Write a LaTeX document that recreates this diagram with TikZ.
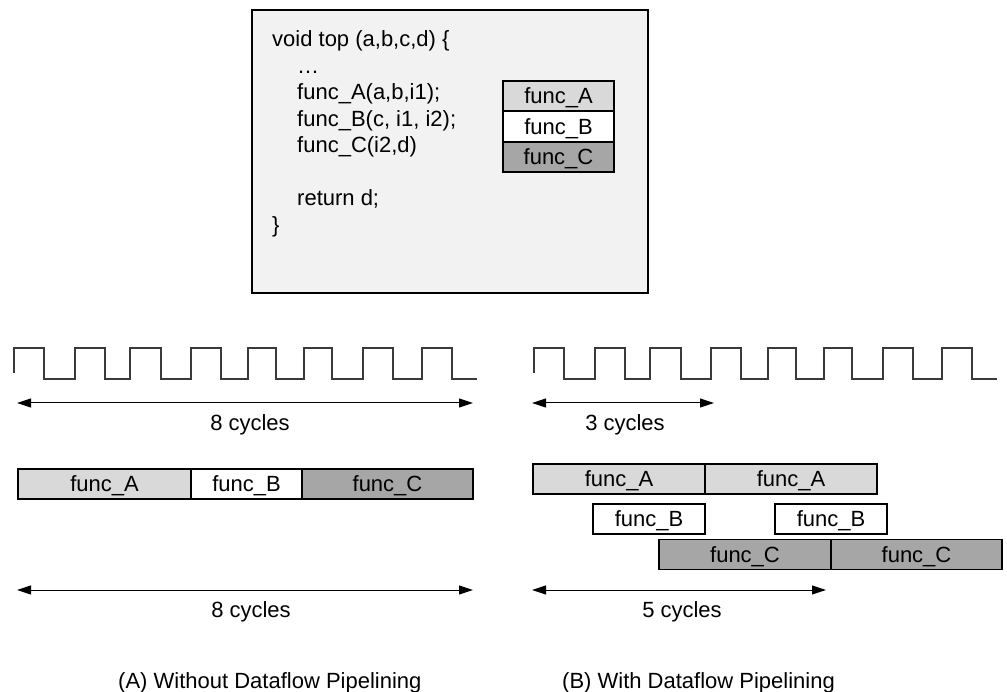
\documentclass[tikz,border=0pt]{standalone}
\usepackage{fontspec}
\setmainfont{Liberation Sans}
\usetikzlibrary{arrows.meta}
\definecolor{boxgray}{HTML}{F2F2F2}
\definecolor{agray}{HTML}{D9D9D9}
\definecolor{cgray}{HTML}{A6A6A6}
\definecolor{clk}{HTML}{3A3A3A}
\tikzset{
  txt/.style={font=\fontsize{22}{26}\selectfont, inner sep=0pt},
  codeline/.style={txt, anchor=base west},
  lbl/.style={txt, anchor=base},
  bar/.style={draw=black, line width=1.6pt, inner sep=0pt, minimum height=30pt,
              text height=15.8pt, text depth=0pt,
              font=\fontsize{22}{26}\selectfont},
  dimarrow/.style={{Triangle[length=14pt,width=9pt]}-{Triangle[length=14pt,width=9pt]}, line width=1pt},
  clock/.style={draw=clk, line width=1.1pt}
}
\begin{document}
\begin{tikzpicture}[x=1pt,y=-1pt]
\useasboundingbox (0,0) rectangle (1007,692);
% code box
\node[draw=black, line width=1.8pt, fill=boxgray, minimum width=396pt, minimum height=283pt, inner sep=0pt] (code) at (450,151.5) {};
\node[codeline] (c1) at (272,47) {void top (a,b,c,d) \{};
\node[codeline] (c2) at (297,73.5) {\dots};
\node[codeline] (c3) at (297,100) {func\_A(a,b,i1);};
\node[codeline] (c4) at (297,126.5) {func\_B(c, i1, i2);};
\node[codeline] (c5) at (297,153) {func\_C(i2,d)};
\node[codeline] (c6) at (297,206) {return d;};
\node[codeline] (c7) at (272,232.5) {\}};
% stack
\node[bar, fill=agray, minimum width=111pt] (sA) at (558.5,96) {func\_A};
\node[bar, fill=white, minimum width=111pt] (sB) at (558.5,126.5) {func\_B};
\node[bar, fill=cgray, minimum width=111pt] (sC) at (558.5,157) {func\_C};
% clocks
\foreach \dx in {0,520}{
\draw[clock, shift={(\dx,0)}] (14,373) -- (14,348) -- (44,348) -- (44,379) -- (75,379) -- (75,348)
  -- (105,348) -- (105,379) -- (130,379) -- (130,348) -- (161,348) -- (161,379)
  -- (191,379) -- (191,348) -- (221,348) -- (221,379) -- (248,379) -- (248,348)
  -- (276,348) -- (276,379) -- (304,379) -- (304,348) -- (332,348) -- (332,379)
  -- (363,379) -- (363,348) -- (393,348) -- (393,379) -- (422,379) -- (422,348)
  -- (452,348) -- (452,379) -- (477,379);
}
% dimension arrows
\coordinate (t8a) at (17,403); \coordinate (t8b) at (473,403);
\draw[dimarrow] (t8a) -- (t8b);
\node[lbl] (l8a) at (250,431) {8 cycles};
\coordinate (t3a) at (532,403); \coordinate (t3b) at (714,403);
\draw[dimarrow] (t3a) -- (t3b);
\node[lbl] (l3) at (625,431) {3 cycles};
\coordinate (b8a) at (17,590); \coordinate (b8b) at (473,590);
\draw[dimarrow] (b8a) -- (b8b);
\node[lbl] (l8b) at (251,617) {8 cycles};
\coordinate (b5a) at (532,590); \coordinate (b5b) at (826,590);
\draw[dimarrow] (b5a) -- (b5b);
\node[lbl] (l5) at (682,617) {5 cycles};
% left bars
\node[bar, fill=agray, minimum width=173pt] (LA) at (104.5,484) {func\_A};
\node[bar, fill=white, minimum width=111pt] (LB) at (246.5,484) {func\_B};
\node[bar, fill=cgray, minimum width=171pt] (LC) at (387.5,484) {func\_C};
% right bars
\node[bar, fill=agray, minimum width=172pt] (RA1) at (619,479) {func\_A};
\node[bar, fill=agray, minimum width=172pt] (RA2) at (791,479) {func\_A};
\node[bar, fill=white, minimum width=112pt] (RB1) at (649,519) {func\_B};
\node[bar, fill=white, minimum width=112pt] (RB2) at (831,519) {func\_B};
\node[bar, fill=cgray, minimum width=172pt] (RC1) at (745,554.5) {func\_C};
\node[bar, fill=cgray, minimum width=171pt] (RC2) at (916.5,554.5) {func\_C};
% captions
\node[txt, anchor=base west] (capA) at (118,688) {(A) Without Dataflow Pipelining};
\node[txt, anchor=base west] (capB) at (562,688) {(B) With Dataflow Pipelining};
\end{tikzpicture}
\end{document}
